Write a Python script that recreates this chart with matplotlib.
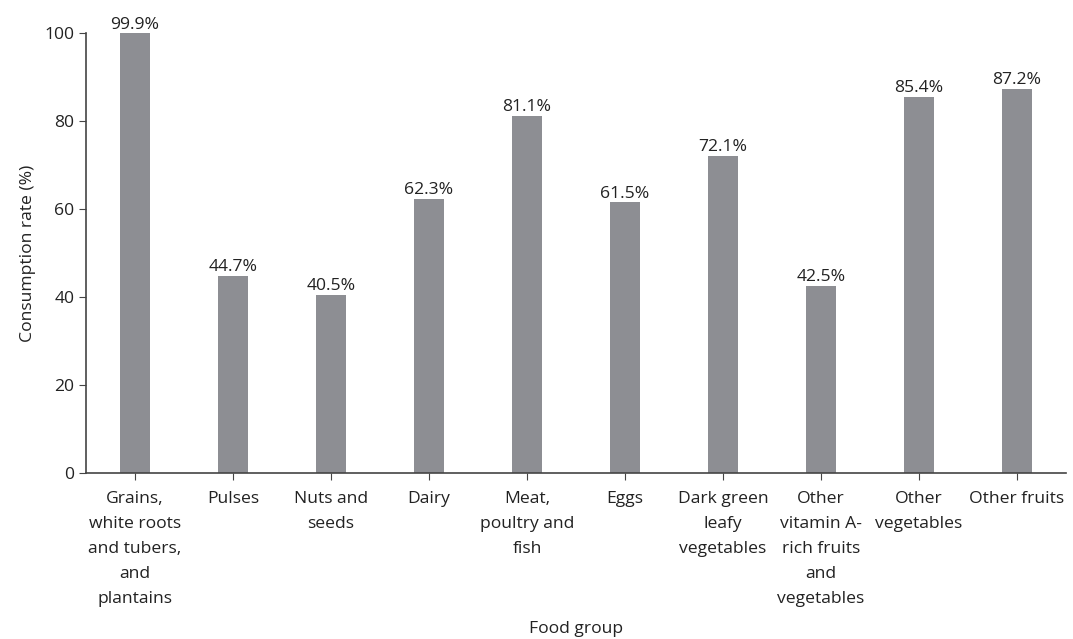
import matplotlib
matplotlib.use("Agg")
import matplotlib.pyplot as plt

categories = ["Grains,\nwhite roots\nand tubers,\nand\nplantains", "Pulses", "Nuts and\nseeds", "Dairy",
              "Meat,\npoultry and\nfish", "Eggs", "Dark green\nleafy\nvegetables",
              "Other\nvitamin A-\nrich fruits\nand\nvegetables", "Other\nvegetables", "Other fruits"]
values = [99.9, 44.7, 40.5, 62.3, 81.1, 61.5, 72.1, 42.5, 85.4, 87.2]
yticks = [0, 20, 40, 60, 80, 100]

plt.rcParams['font.family'] = ['Open Sans', 'DejaVu Sans']
FS = 12.6
fig = plt.figure(figsize=(10.73, 6.39), dpi=100)
W, H = 1073, 639
ax = fig.add_axes([86 / W, (H - 473) / H, (1066 - 86) / W, (473 - 33) / H])
x = list(range(len(categories)))
ax.bar(x, values, width=0.3, color="#8d8e93")
for xi, v in zip(x, values):
    ax.text(xi, v + 0.2, f"{v}%", ha="center", va="bottom", fontsize=FS, color="#222222")
ax.set_xlim(-0.5, len(categories) - 0.5)
ax.set_ylim(0, 100)
ax.set_yticks(yticks)
ax.set_xticks(x)
ax.set_xticklabels(categories, fontsize=FS, color="#222222", linespacing=1.75)
ax.tick_params(axis="y", labelsize=FS, labelcolor="#222222", length=5, color="#444444")
ax.tick_params(axis="x", length=5, color="#444444", pad=8)
for s in ["top", "right"]:
    ax.spines[s].set_visible(False)
for s in ["left", "bottom"]:
    ax.spines[s].set_color("#444444")
    ax.spines[s].set_linewidth(1.2)
ax.set_ylabel("Consumption rate (%)", fontsize=FS, color="#222222", labelpad=6)
ax.set_xlabel("Food group", fontsize=FS, color="#222222", labelpad=10)
fig.savefig("out.png", dpi=100)
